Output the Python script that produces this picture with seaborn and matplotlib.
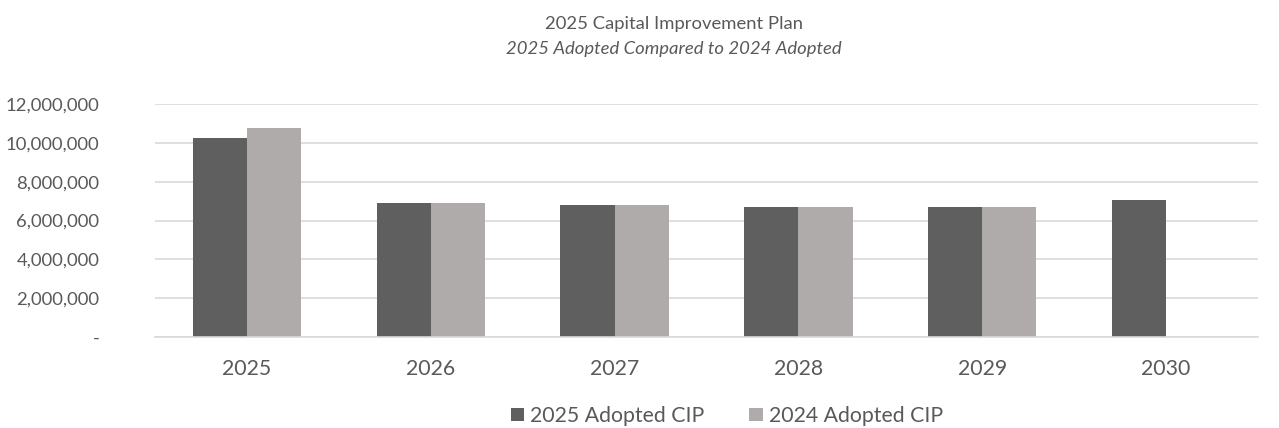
import pandas as pd
import matplotlib.pyplot as plt
import seaborn as sns
from matplotlib.ticker import FuncFormatter

years = ["2025", "2026", "2027", "2028", "2029", "2030"]
adopted_2025 = [10240000, 6910000, 6810000, 6720000, 6720000, 7050000]
adopted_2024 = [10740000, 6910000, 6810000, 6720000, 6720000, None]
series_names = ["2025 Adopted CIP", "2024 Adopted CIP"]
colors = ["#5F5F5F", "#AFABAB"]
text_color = "#595959"

df = pd.DataFrame({
    "year": years * 2,
    "value": adopted_2025 + adopted_2024,
    "series": [series_names[0]] * 6 + [series_names[1]] * 6,
})

sns.set_theme(style="white")
plt.rcParams["font.family"] = ["Lato", "DejaVu Sans"]

fig = plt.figure(figsize=(12.79, 4.28), dpi=100)
ax = fig.add_axes([155 / 1279, 1 - 337 / 428, (1258 - 155) / 1279, (337 - 104) / 428])

sns.barplot(data=df, x="year", y="value", hue="series", palette=colors,
            width=0.59, gap=0, saturation=1, linewidth=0, ax=ax, legend=True)

ax.set_ylim(0, 12000000)
ax.set_yticks(range(0, 12000001, 2000000))
ax.yaxis.set_major_formatter(FuncFormatter(lambda v, p: "-" if v == 0 else f"{int(v):,}"))
ax.grid(axis="y", color="#D9D9D9", linewidth=1.2)
ax.set_axisbelow(True)
for s in ["top", "right", "left"]:
    ax.spines[s].set_visible(False)
ax.spines["bottom"].set_color("#D9D9D9")
ax.spines["bottom"].set_linewidth(1.2)
ax.set_xlabel("")
ax.set_ylabel("")
ax.tick_params(axis="y", labelsize=13.3, colors=text_color, length=0, pad=40)
ax.tick_params(axis="x", labelsize=15.3, colors=text_color, length=0, pad=16)

handles, labels = ax.get_legend_handles_labels()
ax.legend_.remove()
fig.legend(handles, labels, loc="center", bbox_to_anchor=(727 / 1279, 1 - 416 / 428),
           ncol=2, frameon=False, fontsize=15.3, handlelength=0.62, handleheight=0.62,
           handletextpad=0.3, columnspacing=2.1, labelcolor=text_color)

fig.text(674 / 1279, 1 - 24 / 428, "2025 Capital Improvement Plan", ha="center", va="center",
         fontsize=13.3, color=text_color)
fig.text(674 / 1279, 1 - 49 / 428, "2025 Adopted Compared to 2024 Adopted", ha="center", va="center",
         fontsize=13.3, color=text_color, style="italic")

fig.savefig("out.png", dpi=100)
